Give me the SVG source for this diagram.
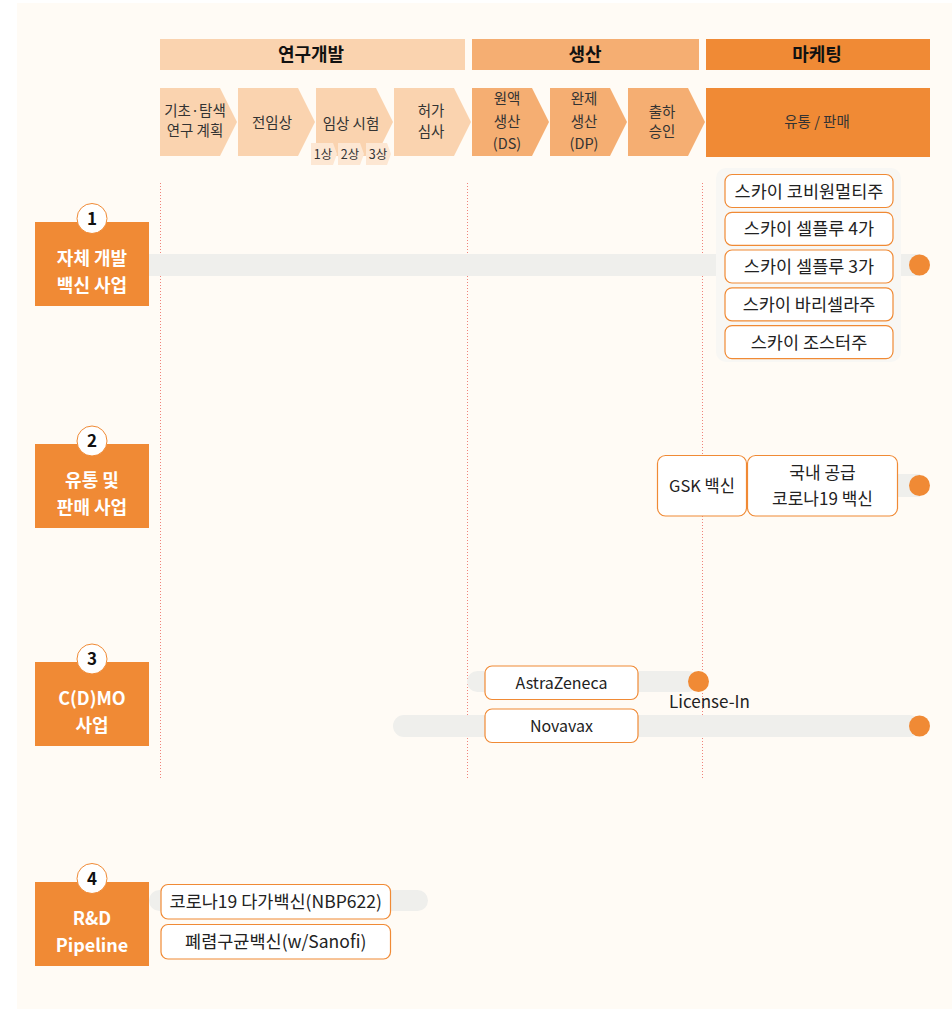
<svg xmlns="http://www.w3.org/2000/svg" width="952" height="1009" viewBox="0 0 952 1009">
<style>
text{font-family:"Noto Sans CJK KR","Noto Sans",sans-serif;}
.hd{font-size:18px;font-weight:bold;fill:#111;text-anchor:middle;}
.ch{font-size:14.5px;fill:#333;text-anchor:middle;}
.sub{font-size:12.5px;fill:#333;text-anchor:middle;}
.sec{font-size:18px;font-weight:bold;fill:#fff;text-anchor:middle;}
.num{font-size:17px;font-weight:bold;fill:#111;text-anchor:middle;}
.bx{fill:#fff;stroke:#F08A35;stroke-width:1.2;}
.bt{font-size:16px;fill:#222;text-anchor:middle;}
.bl{font-size:17.5px;fill:#222;text-anchor:middle;}
.bar{fill:#EFEFEC;}
.dot{fill:#F08A35;}
.vl{stroke:#F0837A;stroke-width:1;stroke-dasharray:1 2;fill:none;}
.sbox{fill:#F08A35;}
.circ{fill:#fff;stroke:#F08A35;stroke-width:1;}
</style>
<rect x="0" y="0" width="952" height="1009" fill="#fff"/>
<rect x="17" y="3" width="935" height="1006" fill="#FFFBF5"/>

<g id="header">
<rect x="160" y="39" width="305" height="31" fill="#FAD3AF"/>
<text class="hd" x="311" y="60.5">연구개발</text>
<rect x="472" y="39" width="227" height="31" fill="#F5AE72"/>
<text class="hd" x="585" y="60.5">생산</text>
<rect x="706" y="39" width="224" height="31" fill="#F08A35"/>
<text class="hd" x="817" y="60.5">마케팅</text>
</g>

<g id="stages">
<polygon points="160,88 220,88 237,122 220,156 160,156" fill="#FAD3AF"/>
<text class="ch" x="195" y="116">기초·탐색</text>
<text class="ch" x="195" y="136">연구 계획</text>
<polygon points="238,88 298,88 315,122 298,156 238,156" fill="#FAD3AF"/>
<text class="ch" x="272" y="128">전임상</text>
<polygon points="316,88 376,88 393,122 376,156 316,156" fill="#FAD3AF"/>
<text class="ch" x="351" y="129">임상 시험</text>
<polygon points="311,143 333,143 337,154 333,165 311,165" fill="#FDE7D3"/>
<text class="sub" x="323" y="159">1상</text>
<polygon points="338,143 360,143 364,154 360,165 338,165" fill="#FDE7D3"/>
<text class="sub" x="350" y="159">2상</text>
<polygon points="366,143 387,143 391,154 387,165 366,165" fill="#FDE7D3"/>
<text class="sub" x="378" y="159">3상</text>
<polygon points="394,88 454,88 471,122 454,156 394,156" fill="#FAD3AF"/>
<text class="ch" x="431" y="116">허가</text>
<text class="ch" x="431" y="137">심사</text>
<polygon points="472,88 532,88 549,122 532,156 472,156" fill="#F5AE72"/>
<text class="ch" x="507" y="104">원액</text>
<text class="ch" x="507" y="127">생산</text>
<text class="ch" x="507" y="149">(DS)</text>
<polygon points="550,88 610,88 627,122 610,156 550,156" fill="#F5AE72"/>
<text class="ch" x="584" y="104">완제</text>
<text class="ch" x="584" y="127">생산</text>
<text class="ch" x="584" y="149">(DP)</text>
<polygon points="628,88 688,88 705,122 688,156 628,156" fill="#F5AE72"/>
<text class="ch" x="662" y="117">출하</text>
<text class="ch" x="662" y="137">승인</text>
<rect x="706" y="88" width="224" height="69" fill="#F08A35"/>
<text class="ch" x="817" y="127">유통 / 판매</text>
</g>

<g id="connectors">
<line class="vl" x1="160.5" y1="183" x2="160.5" y2="778"/>
<line class="vl" x1="467.5" y1="183" x2="467.5" y2="778"/>
<line class="vl" x1="702.5" y1="183" x2="702.5" y2="778"/>
<rect class="bar" x="149" y="254" width="771" height="22"/>
<circle class="dot" cx="919.5" cy="265" r="10.5"/>
<rect class="bar" x="740" y="474" width="180" height="23"/>
<circle class="dot" cx="919.5" cy="485.5" r="10.5"/>
<rect class="bar" x="467" y="671" width="232" height="21" rx="10.5"/>
<circle class="dot" cx="698.5" cy="681.5" r="10.5"/>
<rect class="bar" x="393" y="715" width="527" height="22" rx="11"/>
<circle class="dot" cx="919.5" cy="726" r="10.5"/>
<rect class="bar" x="149" y="890" width="279" height="21" rx="10.5"/>
</g>

<g id="section1">
<rect class="sbox" x="35" y="222" width="114" height="84"/>
<circle class="circ" cx="92" cy="218.5" r="15"/>
<text class="num" x="92" y="224.5">1</text>
<text class="sec" x="92" y="265">자체 개발</text>
<text class="sec" x="92" y="292">백신 사업</text>
</g>

<g id="section1-list">
<rect x="716" y="168" width="185" height="194" rx="10" fill="#F8F7F4"/>
<rect class="bx" x="725" y="174.5" width="168" height="33" rx="7"/>
<text class="bl" x="809" y="197.5">스카이 코비원멀티주</text>
<rect class="bx" x="725" y="212.3" width="168" height="33" rx="7"/>
<text class="bl" x="809" y="235.3">스카이 셀플루 4가</text>
<rect class="bx" x="725" y="250" width="168" height="33" rx="7"/>
<text class="bl" x="809" y="273">스카이 셀플루 3가</text>
<rect class="bx" x="725" y="287.8" width="168" height="33" rx="7"/>
<text class="bl" x="809" y="310.8">스카이 바리셀라주</text>
<rect class="bx" x="725" y="325.6" width="168" height="33" rx="7"/>
<text class="bl" x="809" y="348.6">스카이 조스터주</text>
</g>

<g id="section2">
<rect class="sbox" x="35" y="444" width="114" height="84"/>
<circle class="circ" cx="92" cy="441" r="15"/>
<text class="num" x="92" y="447">2</text>
<text class="sec" x="92" y="487">유통 및</text>
<text class="sec" x="92" y="514">판매 사업</text>
</g>

<g id="section2-boxes">
<rect class="bx" x="657.5" y="455.5" width="89" height="60.5" rx="8"/>
<text class="bt" x="702" y="491.5" style="font-size:16.5px">GSK 백신</text>
<rect class="bx" x="747.5" y="455.5" width="150" height="60.5" rx="8"/>
<text class="bt" x="822.5" y="479" style="font-size:17px">국내 공급</text>
<text class="bt" x="822.5" y="505" style="font-size:17px">코로나19 백신</text>
</g>

<g id="section3">
<rect class="sbox" x="35" y="662" width="114" height="84"/>
<circle class="circ" cx="92" cy="659" r="15"/>
<text class="num" x="92" y="665">3</text>
<text class="sec" x="92" y="705">C(D)MO</text>
<text class="sec" x="92" y="732">사업</text>
</g>

<g id="section3-boxes">
<rect class="bx" x="485" y="666" width="153" height="33.5" rx="7"/>
<text class="bt" x="561.5" y="688.5">AstraZeneca</text>
<rect class="bx" x="485" y="709" width="153" height="33.5" rx="7"/>
<text class="bt" x="561.5" y="731.5">Novavax</text>
<text class="bt" x="709.5" y="707.5" style="font-size:17px">License-In</text>
</g>

<g id="section4">
<rect class="sbox" x="35" y="882" width="114" height="84"/>
<circle class="circ" cx="92" cy="878.5" r="15"/>
<text class="num" x="92" y="884.5">4</text>
<text class="sec" x="92" y="925">R&amp;D</text>
<text class="sec" x="92" y="952">Pipeline</text>
</g>

<g id="section4-boxes">
<rect class="bx" x="161" y="884.5" width="229.5" height="34.5" rx="7"/>
<text class="bl" x="275.7" y="908">코로나19 다가백신(NBP622)</text>
<rect class="bx" x="161" y="924.5" width="229.5" height="34.5" rx="7"/>
<text class="bl" x="275.7" y="948">폐렴구균백신(w/Sanofi)</text>
</g>
</svg>
